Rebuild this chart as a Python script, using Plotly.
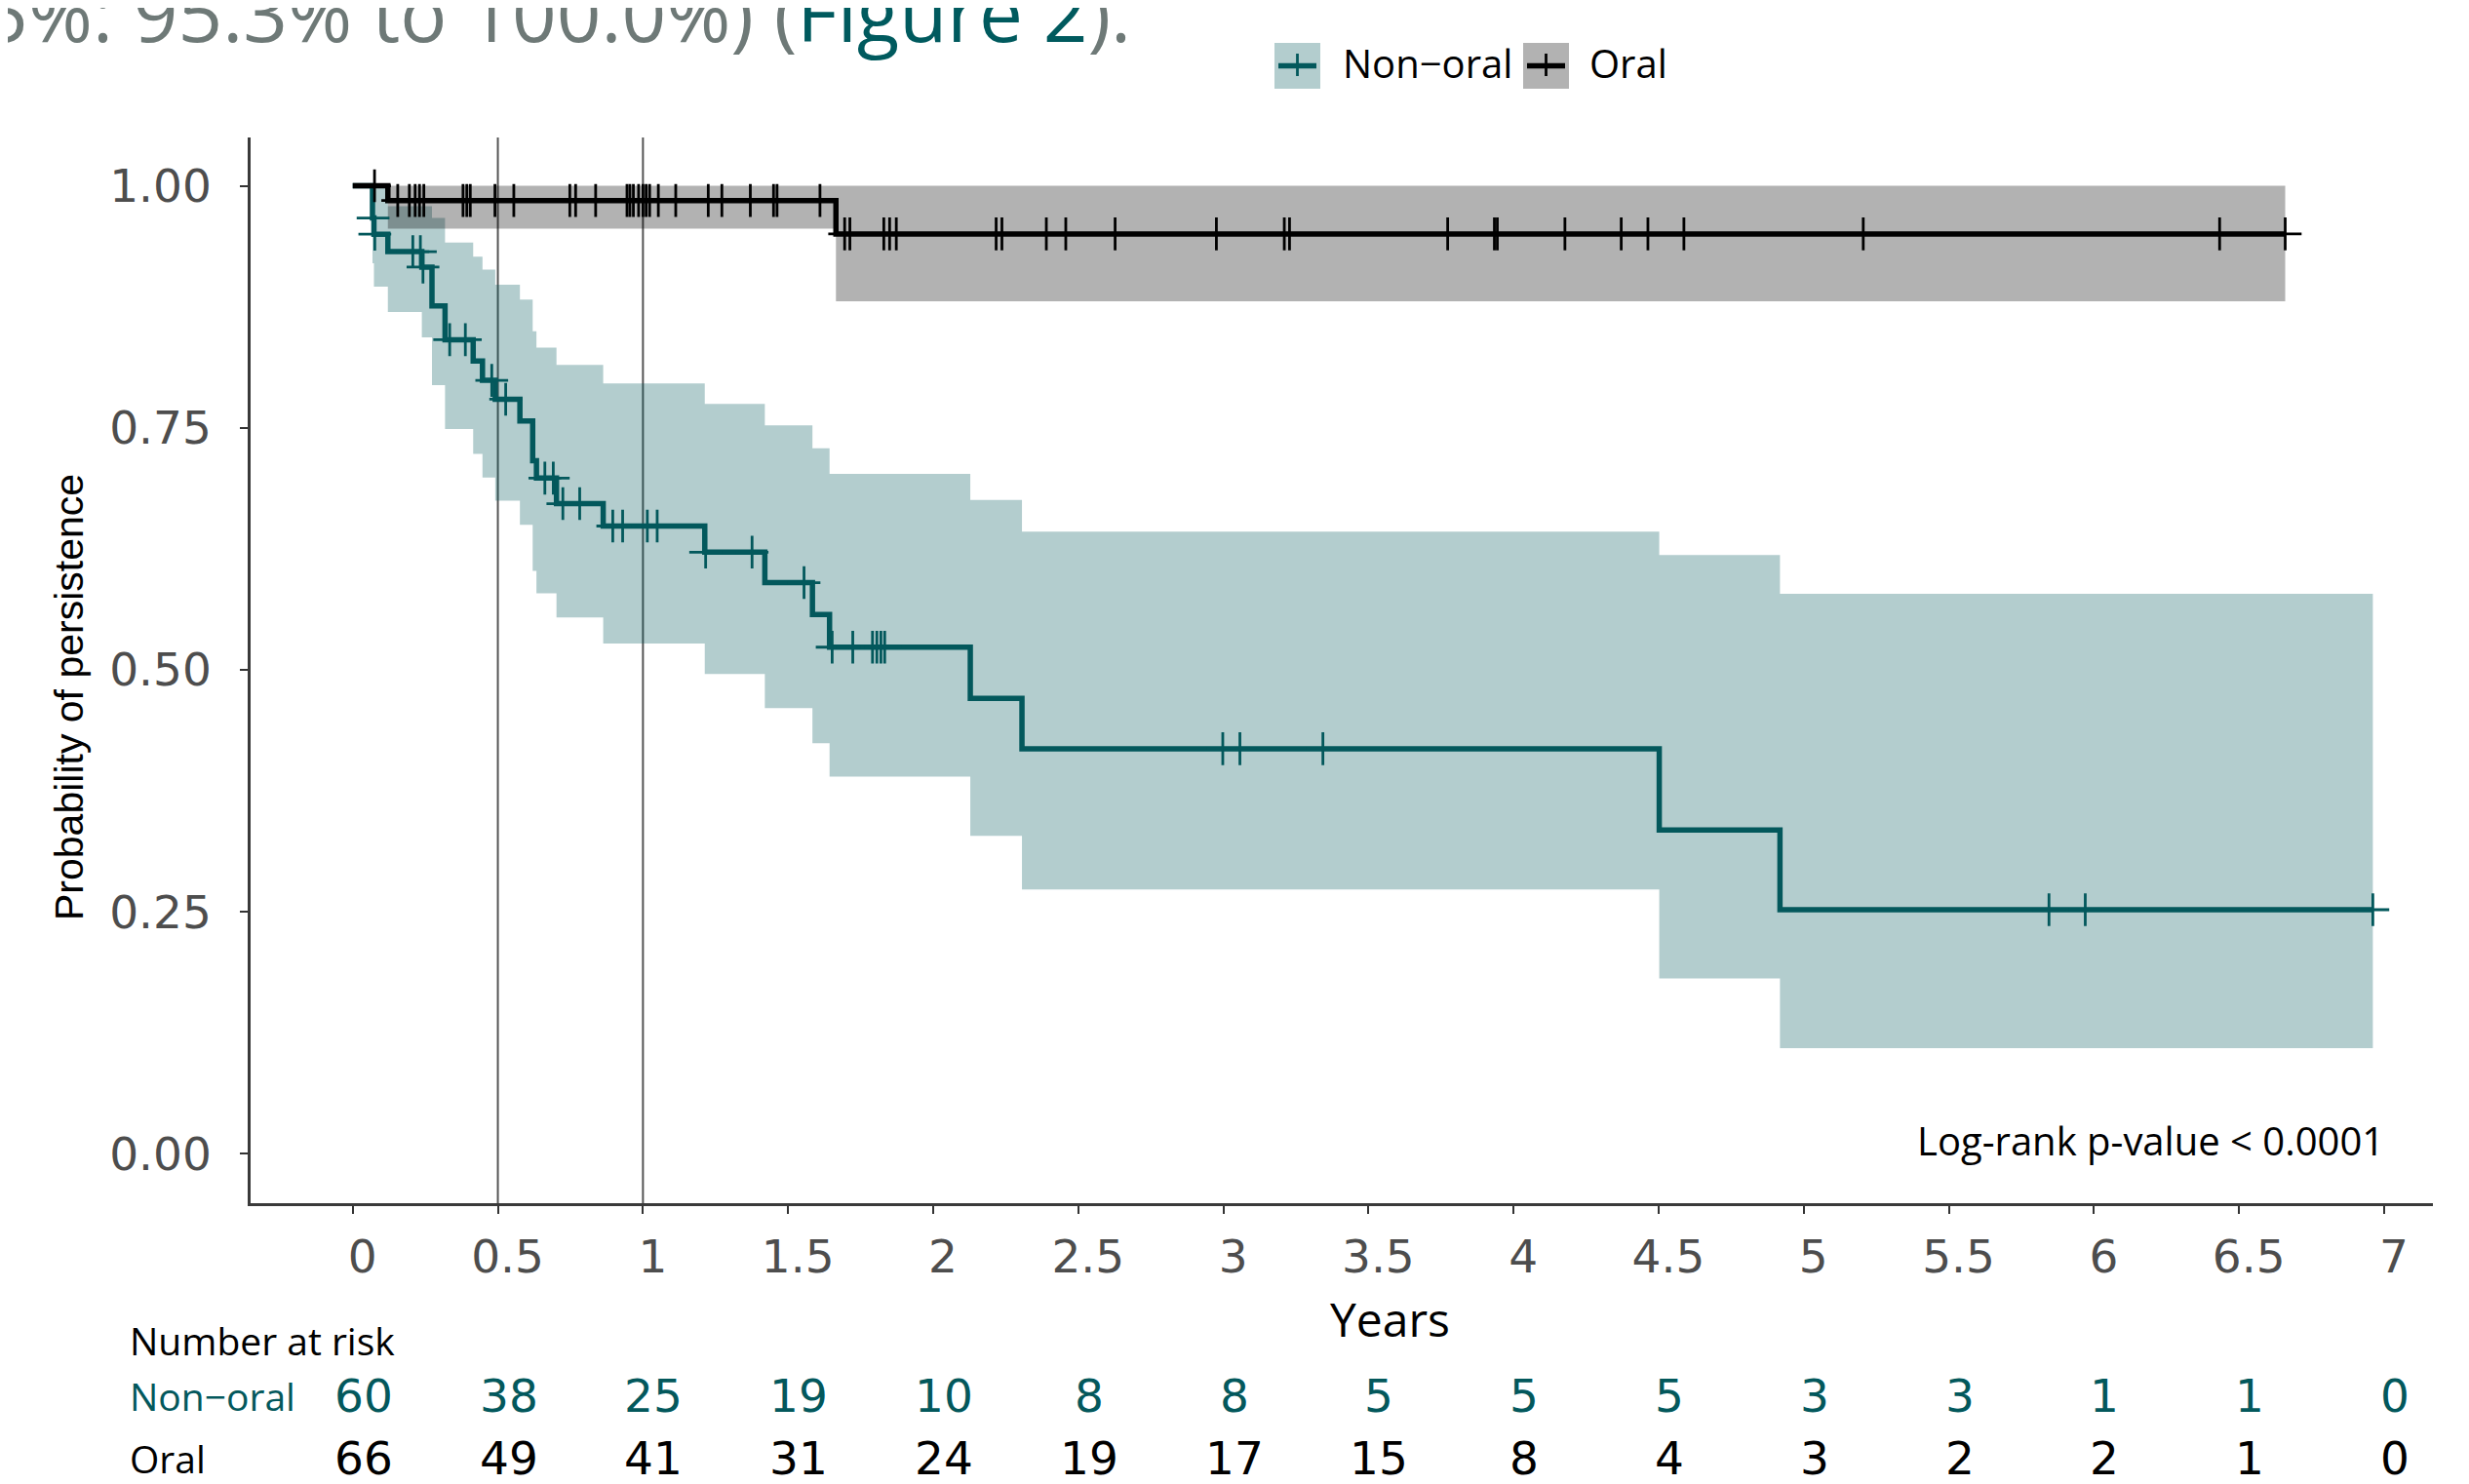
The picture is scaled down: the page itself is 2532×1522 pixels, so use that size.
import plotly.graph_objects as go

# ---------------- data ----------------
groups = ["Non\u2212oral", "Oral"]

# Non-oral Kaplan-Meier steps (time in years)
nonoral_time = [0.0, 0.068, 0.073, 0.121, 0.238, 0.273, 0.318, 0.415, 0.447, 0.491, 0.576,
                0.620, 0.633, 0.702, 0.863, 1.213, 1.420, 1.584, 1.643, 2.128, 2.306, 4.502, 4.918]
nonoral_surv = [1.0, 0.9667, 0.950, 0.932, 0.916, 0.876, 0.841, 0.819, 0.799, 0.7795, 0.757,
                0.716, 0.698, 0.6716, 0.6485, 0.6215, 0.590, 0.557, 0.5233, 0.4705, 0.4184, 0.3344, 0.2521]
nonoral_upper = [1.0, 1.0, 1.0, 0.979, 0.979, 0.9667, 0.9414, 0.9268, 0.9133, 0.8979, 0.8825,
                 0.8497, 0.8327, 0.815, 0.7957, 0.7746, 0.7525, 0.7287, 0.7025, 0.6755, 0.6427, 0.6184, 0.5784]
nonoral_lower = [1.0, 0.92, 0.8957, 0.8696, 0.8434, 0.794, 0.7488, 0.7229, 0.6986, 0.6747, 0.6497,
                 0.6022, 0.579, 0.554, 0.527, 0.4955, 0.4604, 0.4242, 0.3895, 0.3283, 0.2730, 0.181, 0.109]
nonoral_end = 6.961
nonoral_censor = [0.070, 0.076, 0.207, 0.233, 0.242, 0.334, 0.388, 0.479, 0.527, 0.662, 0.691,
                  0.724, 0.782, 0.896, 0.930, 1.015, 1.049, 1.216, 1.376, 1.555, 1.652, 1.723,
                  1.791, 1.806, 1.820, 1.833, 2.998, 3.057, 3.343, 5.845, 5.970, 6.961]

# Oral Kaplan-Meier steps
oral_time = [0.0, 0.121, 1.665]
oral_surv = [1.0, 0.9848, 0.9503]
oral_upper = [1.0, 1.0, 1.0]
oral_lower = [1.0, 0.9557, 0.8806]
oral_end = 6.659
oral_censor = [0.075, 0.155, 0.195, 0.215, 0.230, 0.245, 0.380, 0.393, 0.405, 0.490, 0.555,
               0.748, 0.768, 0.837, 0.945, 0.955, 0.967, 0.985, 1.000, 1.011, 1.023, 1.053,
               1.113, 1.225, 1.272, 1.370, 1.450, 1.462, 1.610, 1.695, 1.713, 1.830, 1.850,
               1.873, 2.217, 2.237, 2.390, 2.457, 2.627, 2.976, 3.210, 3.228, 3.773, 3.934,
               3.944, 4.177, 4.371, 4.463, 4.587, 5.205, 6.433, 6.659]

# Number at risk table
risk_times = [0, 0.5, 1, 1.5, 2, 2.5, 3, 3.5, 4, 4.5, 5, 5.5, 6, 6.5, 7]
risk_nonoral = [60, 38, 25, 19, 10, 8, 8, 5, 5, 5, 3, 3, 1, 1, 0]
risk_oral = [66, 49, 41, 31, 24, 19, 17, 15, 8, 4, 3, 2, 2, 1, 0]

x_ticks = [0, 0.5, 1, 1.5, 2, 2.5, 3, 3.5, 4, 4.5, 5, 5.5, 6, 6.5, 7]
x_ticktext = ["0", "0.5", "1", "1.5", "2", "2.5", "3", "3.5", "4", "4.5", "5", "5.5", "6", "6.5", "7"]
y_ticks = [0, 0.25, 0.5, 0.75, 1.0]
y_ticktext = ["0.00", "0.25", "0.50", "0.75", "1.00"]
ref_lines = [0.5, 1.0]

# ---------------- style / layout ----------------
OFF = 8                      # page body margin offset
W, H = 2532 - 2 * OFF, 1522 - 2 * OFF
PL, PR, PT, PB = 257, 2495, 141, 1234   # plot area in screen pixels
ML, MT = PL - OFF, PT - OFF
MR, MB = W - (PR - OFF), H - (PB - OFF)
PW, PH = PR - PL, PB - PT

TEAL = "#03585c"
TEAL_FILL = "rgba(3,88,92,0.30)"
BLACK = "#000000"
GREY_FILL = "rgba(0,0,0,0.30)"
WORD_FONT = "Open Sans"
NUM_FONT = "DejaVu Sans"


def px_x(px):
    return (px - PL) / PW


def px_y(py):
    return (PB - py) / PH


def step_value(times, vals, t):
    v = vals[0]
    for ti, vi in zip(times, vals):
        if ti <= t:
            v = vi
    return v


def closed(times, vals, end):
    return list(times) + [end], list(vals) + [vals[-1]]


fig = go.Figure()

series = [
    (groups[0], nonoral_time, nonoral_surv, nonoral_upper, nonoral_lower, nonoral_end,
     nonoral_censor, TEAL, TEAL_FILL),
    (groups[1], oral_time, oral_surv, oral_upper, oral_lower, oral_end,
     oral_censor, BLACK, GREY_FILL),
]

# confidence ribbons
for name, t, s, up, lo, end, cen, col, fcol in series:
    xl, yl = closed(t, lo, end)
    xu, yu = closed(t, up, end)
    fig.add_trace(go.Scatter(x=xl, y=yl, mode="lines", line=dict(width=0, shape="hv"),
                             showlegend=False, hoverinfo="skip"))
    fig.add_trace(go.Scatter(x=xu, y=yu, mode="lines", line=dict(width=0, shape="hv"),
                             fill="tonexty", fillcolor=fcol, showlegend=False, hoverinfo="skip"))

# survival step lines
for name, t, s, up, lo, end, cen, col, fcol in series:
    xs, ys = closed(t, s, end)
    fig.add_trace(go.Scatter(x=xs, y=ys, mode="lines", name=name,
                             line=dict(color=col, width=5.5, shape="hv"), showlegend=False))

# censor marks
for name, t, s, up, lo, end, cen, col, fcol in series:
    cy = [step_value(t, s, c) for c in cen]
    fig.add_trace(go.Scatter(x=cen, y=cy, mode="markers", showlegend=False,
                             marker=dict(symbol="cross-thin", size=24,
                                         line=dict(color=col, width=2.8))))

shapes = []
for xv in ref_lines:
    shapes.append(dict(type="line", xref="x", yref="paper", x0=xv, x1=xv, y0=0, y1=1,
                       line=dict(color="#555555", width=2), layer="below"))

# manual legend (ggplot style keys)
legend_items = [(groups[0], TEAL, TEAL_FILL, 1307, 1375), (groups[1], BLACK, GREY_FILL, 1562, 1628)]
annotations = []
for label, col, fcol, bx, tx in legend_items:
    shapes.append(dict(type="rect", xref="paper", yref="paper",
                       x0=px_x(bx), x1=px_x(bx + 47), y0=px_y(91), y1=px_y(44),
                       fillcolor=fcol, line=dict(width=0), layer="above"))
    shapes.append(dict(type="line", xref="paper", yref="paper",
                       x0=px_x(bx + 4), x1=px_x(bx + 43), y0=px_y(67.5), y1=px_y(67.5),
                       line=dict(color=col, width=5.5), layer="above"))
    shapes.append(dict(type="line", xref="paper", yref="paper",
                       x0=px_x(bx + 23.5), x1=px_x(bx + 23.5), y0=px_y(55), y1=px_y(78),
                       line=dict(color=col, width=2.8), layer="above"))
    annotations.append(dict(text=label, xref="paper", yref="paper", x=px_x(tx), y=px_y(65),
                            xanchor="left", yanchor="middle", showarrow=False,
                            font=dict(family=WORD_FONT, size=40, color="#000000")))

# header text fragment (clipped at the top of the image)
annotations.append(dict(
    text="5%: 95.3% to 100.0%) (<span style='color:#005a5e'>Figure 2</span>).",
    xref="paper", yref="paper", x=px_x(1162), y=px_y(68), xanchor="right", yanchor="bottom",
    showarrow=False, font=dict(family=WORD_FONT, size=80, color="#6e7977")))

# y-axis title
annotations.append(dict(text="Probability of persistence", xref="paper", yref="paper",
                        x=px_x(71), y=px_y(715), textangle=-90, xanchor="center",
                        yanchor="middle", showarrow=False,
                        font=dict(family="Liberation Sans", size=41, color="#000000")))

# x-axis title
annotations.append(dict(text="Years", xref="paper", yref="paper", x=px_x(1425), y=px_y(1352),
                        xanchor="center", yanchor="middle", showarrow=False,
                        font=dict(family=WORD_FONT, size=48, color="#000000")))

# log-rank text
annotations.append(dict(text="Log-rank p-value < 0.0001", xref="paper", yref="paper",
                        x=px_x(2447), y=px_y(1169), xanchor="right", yanchor="middle",
                        showarrow=False, font=dict(family=WORD_FONT, size=40, color="#000000")))

# risk table
annotations.append(dict(text="Number at risk", xref="paper", yref="paper", x=px_x(131),
                        y=px_y(1374), xanchor="left", yanchor="middle", showarrow=False,
                        font=dict(family=WORD_FONT, size=39, color="#000000")))
for label, counts, col, row_y in [(groups[0], risk_nonoral, TEAL, 1431), (groups[1], risk_oral, BLACK, 1496)]:
    annotations.append(dict(text=label, xref="paper", yref="paper", x=px_x(131), y=px_y(row_y),
                            xanchor="left", yanchor="middle", showarrow=False,
                            font=dict(family=WORD_FONT, size=39, color=col)))
    for tv, n in zip(risk_times, counts):
        annotations.append(dict(text=str(n), xref="x", yref="paper", x=tv, y=px_y(row_y),
                                xshift=11, xanchor="center", yanchor="middle", showarrow=False,
                                font=dict(family=NUM_FONT, size=47, color=col)))

fig.update_layout(
    width=W, height=H, autosize=False,
    margin=dict(l=ML, r=MR, t=MT, b=MB, autoexpand=False),
    paper_bgcolor="white", plot_bgcolor="white",
    showlegend=False,
    shapes=shapes, annotations=annotations,
    xaxis=dict(range=[-0.352, 7.168], tickvals=x_ticks, ticktext=x_ticktext,
               showgrid=False, zeroline=False, showline=True, linecolor="#3a3a3a", linewidth=2.5,
               ticks="outside", ticklen=8, tickwidth=2, tickcolor="#333333",
               ticklabelshift=10, ticklabelstandoff=4,
               tickfont=dict(family=NUM_FONT, size=47, color="#4d4d4d")),
    yaxis=dict(range=[-0.0511, 1.0499], tickvals=y_ticks, ticktext=y_ticktext,
               showgrid=False, zeroline=False, showline=True, linecolor="#3a3a3a", linewidth=2.5,
               ticks="outside", ticklen=8, tickwidth=2, tickcolor="#333333",
               ticklabelstandoff=20,
               tickfont=dict(family=NUM_FONT, size=47, color="#4d4d4d")),
)

fig.write_html("out.html")
